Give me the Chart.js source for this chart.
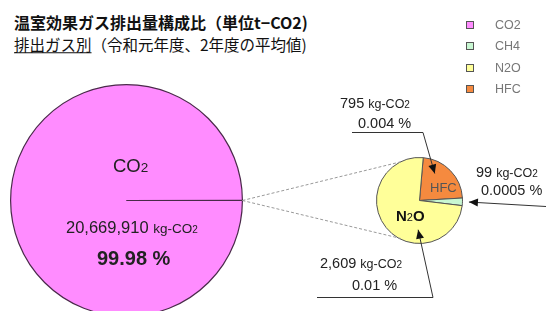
<!DOCTYPE html>
<html>
<head>
<meta charset="utf-8">
<script src="https://cdn.jsdelivr.net/npm/chart.js@4/dist/chart.umd.min.js"></script>
<style>
    html, body { margin: 0; padding: 0; width: 550px; height: 311px; overflow: hidden; background: #fff; }
    body { position: relative; font-family: "Liberation Sans", Arial, sans-serif; color: #222; }
    canvas { position: absolute; }
    .t { position: absolute; white-space: nowrap; line-height: 1; transform: translateY(-50%); }
    .jp { font-family: "Noto Sans CJK JP", sans-serif; color: #111; }
    .unit { font-size: 12.5px; }
    .sub { font-size: 10px; }
    #legend { position: absolute; left: 465px; top: 18px; }
    .lg { position: relative; height: 21.3px; font-size: 12.5px; color: #777; }
    .lg i { position: absolute; left: 1px; top: 3px; width: 6px; height: 6px; border: 1px solid #555; }
    .lg span { position: absolute; left: 30px; top: 0; }
</style>
</head>
<body>
<div class="t jp" style="left:14px;top:22px;font-size:16px;font-weight:bold;">温室効果ガス排出量構成比（単位t−CO2)</div>
<div class="t jp" style="left:14px;top:45px;font-size:15.5px;"><span style="text-decoration:underline;">排出ガス別</span>（令和元年度、2年度の平均値)</div>

<canvas id="bigPie" width="233" height="233" style="left:10px;top:84px;"></canvas>
<canvas id="smallPie" width="87" height="87" style="left:376px;top:157px;"></canvas>
<canvas id="overlay" width="550" height="311" style="left:0;top:0;"></canvas>

<div id="legend"></div>

<div class="t" style="left:113px;top:166px;font-size:18.5px;">CO<span style="font-size:13.5px;">2</span></div>
<div class="t" id="co2Val" style="left:66px;top:227px;font-size:16.5px;"></div>
<div class="t" id="co2Pct" style="left:97px;top:258px;font-size:20px;font-weight:bold;"></div>

<div class="t" style="left:430px;top:187px;font-size:13px;color:#555;">HFC</div>
<div class="t" style="left:396px;top:215px;font-size:15px;font-weight:bold;color:#111;">N<span style="font-size:11px;font-weight:normal;">2</span>O</div>

<div class="t" id="hfcVal" style="left:340px;top:103px;font-size:14.5px;"></div>
<div class="t" id="hfcPct" style="left:358px;top:123px;font-size:14.5px;"></div>
<div class="t" id="ch4Val" style="left:476px;top:172px;font-size:14.5px;"></div>
<div class="t" id="ch4Pct" style="left:481px;top:190px;font-size:14.5px;"></div>
<div class="t" id="n2oVal" style="left:320px;top:263px;font-size:14.5px;"></div>
<div class="t" id="n2oPct" style="left:352px;top:285px;font-size:14.5px;"></div>

<script>
// 排出量 (kg-CO2)
var gasLabels = ['CO2', 'CH4', 'N2O', 'HFC'];
var gasValues = [20669910, 99, 2609, 795];
var gasPercents = ['99.98', '0.0005', '0.01', '0.004'];
var gasColors = ['#ff8cff', '#c8f7d2', '#ffff99', '#f58a3f'];

// 凡例
var legend = document.getElementById('legend');
gasLabels.forEach(function (name, i) {
    var row = document.createElement('div');
    row.className = 'lg';
    row.innerHTML = '<i style="background:' + gasColors[i] + '"></i><span>' + name + '</span>';
    legend.appendChild(row);
});

function unitText(v) {
    return v.toLocaleString('en-US') + ' <span class="unit">kg-CO<span class="sub">2</span></span>';
}
document.getElementById('co2Val').innerHTML = unitText(gasValues[0]).replace('class="unit"', 'style="font-size:13.5px"');
document.getElementById('co2Pct').textContent = gasPercents[0] + ' %';
document.getElementById('ch4Val').innerHTML = unitText(gasValues[1]);
document.getElementById('ch4Pct').textContent = gasPercents[1] + ' %';
document.getElementById('n2oVal').innerHTML = unitText(gasValues[2]);
document.getElementById('n2oPct').textContent = gasPercents[2] + ' %';
document.getElementById('hfcVal').innerHTML = unitText(gasValues[3]);
document.getElementById('hfcPct').textContent = gasPercents[3] + ' %';

var baseOptions = {
    responsive: false,
    animation: false,
    events: [],
    plugins: { legend: { display: false }, tooltip: { enabled: false } }
};

// 左の円: CO2 とその他
var others = gasValues[1] + gasValues[2] + gasValues[3];
var bigChart = new Chart(document.getElementById('bigPie'), {
    type: 'pie',
    data: {
        labels: ['CO2', 'その他'],
        datasets: [{
            data: [gasValues[0], others],
            backgroundColor: [gasColors[0], gasColors[0]],
            borderColor: '#4a2a4a',
            borderWidth: 1.2
        }]
    },
    options: Object.assign({ rotation: 90 }, baseOptions)
});

// 右の円: HFC, CH4, N2O
var smallChart = new Chart(document.getElementById('smallPie'), {
    type: 'pie',
    data: {
        labels: [gasLabels[3], gasLabels[1], gasLabels[2]],
        datasets: [{
            data: [gasValues[3], gasValues[1], gasValues[2]],
            backgroundColor: [gasColors[3], gasColors[1], gasColors[2]],
            borderColor: '#555',
            borderWidth: 1
        }]
    },
    options: Object.assign({ rotation: 5 }, baseOptions)
});

// 円上の点 (t: 扇形内の角度の割合, f: 半径の割合)
function arcPoint(chart, idx, t, f) {
    var arc = chart.getDatasetMeta(0).data[idx];
    var a = arc.startAngle + t * (arc.endAngle - arc.startAngle);
    var r = arc.outerRadius * f;
    var left = parseFloat(chart.canvas.style.left), top = parseFloat(chart.canvas.style.top);
    return { x: left + arc.x + r * Math.cos(a), y: top + arc.y + r * Math.sin(a) };
}
function anglePoint(chart, deg, f) {
    var arc = chart.getDatasetMeta(0).data[0];
    var a = (deg - 90) * Math.PI / 180;
    var r = arc.outerRadius * f;
    var left = parseFloat(chart.canvas.style.left), top = parseFloat(chart.canvas.style.top);
    return { x: left + arc.x + r * Math.cos(a), y: top + arc.y + r * Math.sin(a) };
}

var ctx = document.getElementById('overlay').getContext('2d');

function arrow(points) {
    ctx.strokeStyle = '#333';
    ctx.fillStyle = '#111';
    ctx.lineWidth = 1;
    ctx.setLineDash([]);
    ctx.beginPath();
    ctx.moveTo(points[0].x, points[0].y);
    for (var i = 1; i < points.length; i++) ctx.lineTo(points[i].x, points[i].y);
    ctx.stroke();
    var a = points[points.length - 2], b = points[points.length - 1];
    var ang = Math.atan2(b.y - a.y, b.x - a.x);
    ctx.beginPath();
    ctx.moveTo(b.x, b.y);
    ctx.lineTo(b.x - 9 * Math.cos(ang) + 4 * Math.sin(ang), b.y - 9 * Math.sin(ang) - 4 * Math.cos(ang));
    ctx.lineTo(b.x - 9 * Math.cos(ang) - 4 * Math.sin(ang), b.y - 9 * Math.sin(ang) + 4 * Math.cos(ang));
    ctx.closePath();
    ctx.fill();
}

// 点線
var from = arcPoint(bigChart, 0, 0, 1);
ctx.strokeStyle = '#999';
ctx.lineWidth = 1;
ctx.setLineDash([3, 2]);
[anglePoint(smallChart, 334, 1), anglePoint(smallChart, 205, 0.98)].forEach(function (p) {
    ctx.beginPath();
    ctx.moveTo(from.x, from.y);
    ctx.lineTo(p.x, p.y);
    ctx.stroke();
});

// 矢印
arrow([{ x: 352, y: 132.5 }, { x: 423, y: 132.5 }, arcPoint(smallChart, 0, 0.3, 0.72)]);
arrow([{ x: 546, y: 206.5 }, arcPoint(smallChart, 1, 0.5, 1.15)]);
arrow([{ x: 317, y: 297.5 }, { x: 433, y: 297.5 }, arcPoint(smallChart, 2, 0.32, 0.68)]);
</script>
</body>
</html>
